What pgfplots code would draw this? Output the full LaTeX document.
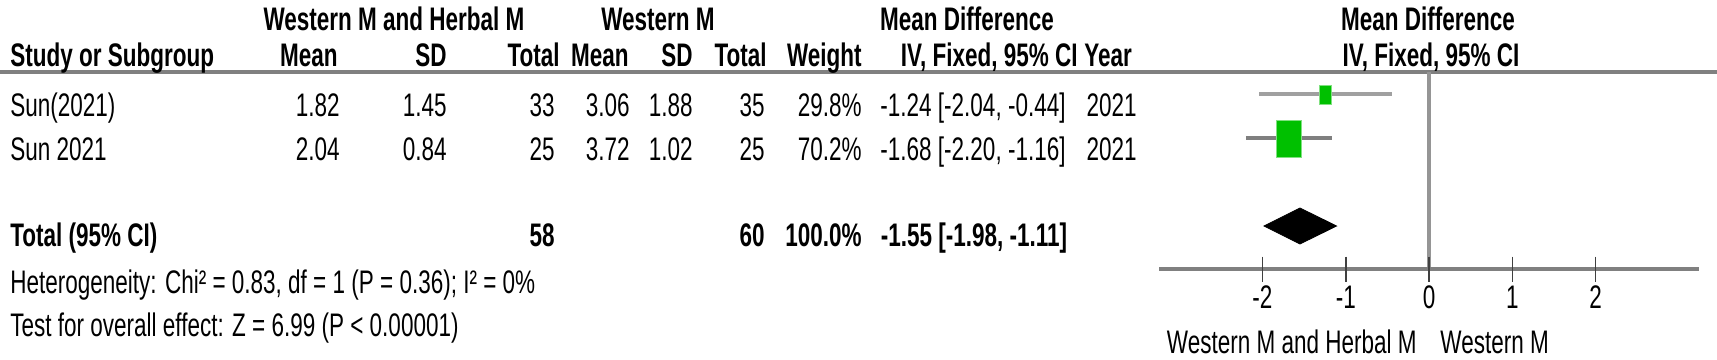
\documentclass[border=0pt]{standalone}
\usepackage{pgfplots}
\pgfplotsset{compat=1.18}
\usepackage{fontspec}
\setmainfont{Liberation Sans}
\usepackage{graphicx}
\definecolor{linegray}{HTML}{808080}
\definecolor{zerogray}{HTML}{959595}
\definecolor{ci1}{HTML}{A0A0A0}
\definecolor{ci2}{HTML}{7F7F7F}
\definecolor{tickgray}{HTML}{404040}
\definecolor{sqfill}{HTML}{00C000}
\definecolor{sqdraw}{HTML}{80E080}
\newcommand\T[1]{\scalebox{1}[1.45]{#1}}
\newcommand\B[1]{\scalebox{1}[1.45]{\bfseries #1}}
\tikzset{txt/.style={inner sep=0pt, font=\fontsize{11.25}{13}\selectfont, text=black}}

\begin{document}
\begin{tikzpicture}
\path[use as bounding box] (0,0) rectangle (858.5pt,-179.5pt);
\begin{scope}[x=0.5pt,y=-0.5pt, every node/.style={txt}]
 \draw[linegray, line width=2pt] (0,72) -- (1717,72);
 % header row 1
 \node[anchor=base] at (394,30) {\B{Western M and Herbal M}};
 \node[anchor=base] at (658,30) {\B{Western M}};
 \node[anchor=base] at (967,30) {\B{Mean Difference}};
 \node[anchor=base] at (1428,30) {\B{Mean Difference}};
 % header row 2
 \node[anchor=base west] at (10,66) {\B{Study or Subgroup}};
 \node[anchor=base east] at (338,66) {\B{Mean}};
 \node[anchor=base east] at (447,66) {\B{SD}};
 \node[anchor=base east] at (560,66) {\B{Total}};
 \node[anchor=base east] at (629,66) {\B{Mean}};
 \node[anchor=base east] at (693,66) {\B{SD}};
 \node[anchor=base east] at (767,66) {\B{Total}};
 \node[anchor=base east] at (862,66) {\B{Weight}};
 \node[anchor=base east] at (1078,66) {\B{IV, Fixed, 95\% CI}};
 \node[anchor=base west] at (1084,66) {\B{Year}};
 \node[anchor=base] at (1431,66) {\B{IV, Fixed, 95\% CI}};
 % study rows
 \node[anchor=base west] at (10,116) {\T{Sun(2021)}};
 \node[anchor=base east] at (340,116) {\T{1.82}};
 \node[anchor=base east] at (447,116) {\T{1.45}};
 \node[anchor=base east] at (555,116) {\T{33}};
 \node[anchor=base east] at (630,116) {\T{3.06}};
 \node[anchor=base east] at (693,116) {\T{1.88}};
 \node[anchor=base east] at (765,116) {\T{35}};
 \node[anchor=base east] at (862,116) {\T{29.8\%}};
 \node[anchor=base] at (973,116) {\T{-1.24 [-2.04, -0.44]}};
 \node[anchor=base east] at (1137,116) {\T{2021}};
 \node[anchor=base west] at (10,160) {\T{Sun 2021}};
 \node[anchor=base east] at (340,160) {\T{2.04}};
 \node[anchor=base east] at (447,160) {\T{0.84}};
 \node[anchor=base east] at (555,160) {\T{25}};
 \node[anchor=base east] at (630,160) {\T{3.72}};
 \node[anchor=base east] at (693,160) {\T{1.02}};
 \node[anchor=base east] at (765,160) {\T{25}};
 \node[anchor=base east] at (862,160) {\T{70.2\%}};
 \node[anchor=base] at (973,160) {\T{-1.68 [-2.20, -1.16]}};
 \node[anchor=base east] at (1137,160) {\T{2021}};
 % total
 \node[anchor=base west] at (10,246) {\B{Total (95\% CI)}};
 \node[anchor=base east] at (555,246) {\B{58}};
 \node[anchor=base east] at (765,246) {\B{60}};
 \node[anchor=base east] at (862,246) {\B{100.0\%}};
 \node[anchor=base] at (974,246) {\B{-1.55 [-1.98, -1.11]}};
 \node[anchor=base west] at (10,293) {\T{Heterogeneity: Chi² = 0.83, df = 1 (P = 0.36); I² = 0\%}};
 \node[anchor=base west] at (10,336) {\T{Test for overall effect: Z = 6.99 (P < 0.00001)}};
 % bottom labels
 \node[anchor=base east] at (1417,353) {\T{Western M and Herbal M}};
 \node[anchor=base west] at (1440,353) {\T{Western M}};
\end{scope}
\begin{axis}[at={(0,0)}, anchor=north west, scale only axis,
  width=858.5pt, height=179.5pt,
  xmin=-17.155, xmax=3.457, ymin=-359, ymax=0,
  hide axis, clip=false]
 % zero line
 \addplot[zerogray, line width=1.6pt, no marks] coordinates {(0,-72) (0,-269)};
 % axis line
 \addplot[linegray, line width=2.3pt, no marks] coordinates {(-3.24,-269) (3.24,-269)};
 % ticks
 \addplot[only marks, mark=|, mark size=6.25pt, mark options={line width=0.75pt, draw=tickgray}]
   coordinates {(-2,-269) (-1,-269) (0,-269) (1,-269) (2,-269)};
 \node[txt, anchor=base] at (axis cs:-2,-308) {\T{-2}};
 \node[txt, anchor=base] at (axis cs:-1,-308) {\T{-1}};
 \node[txt, anchor=base] at (axis cs:0,-308) {\T{0}};
 \node[txt, anchor=base] at (axis cs:1,-308) {\T{1}};
 \node[txt, anchor=base] at (axis cs:2,-308) {\T{2}};
 % confidence intervals
 \addplot[ci1, line width=2.1pt, no marks] coordinates {(-2.04,-94) (-0.44,-94)};
 \addplot[ci2, line width=2.2pt, no marks] coordinates {(-2.20,-138) (-1.16,-138)};
 % study squares
 \addplot[only marks, mark=square*, mark size=3.0pt,
   mark options={fill=sqfill, draw=sqdraw, line width=0.5pt, yscale=1.55}]
   coordinates {(-1.24,-95)};
 \addplot[only marks, mark=square*, mark size=6.15pt,
   mark options={fill=sqfill, draw=sqdraw, line width=0.5pt, yscale=1.49}]
   coordinates {(-1.68,-139)};
 % pooled diamond
 \addplot[fill=black, draw=black, no marks] coordinates {(-1.98,-226) (-1.55,-208) (-1.11,-226) (-1.55,-244)} --cycle;
\end{axis}
\end{tikzpicture}
\end{document}
